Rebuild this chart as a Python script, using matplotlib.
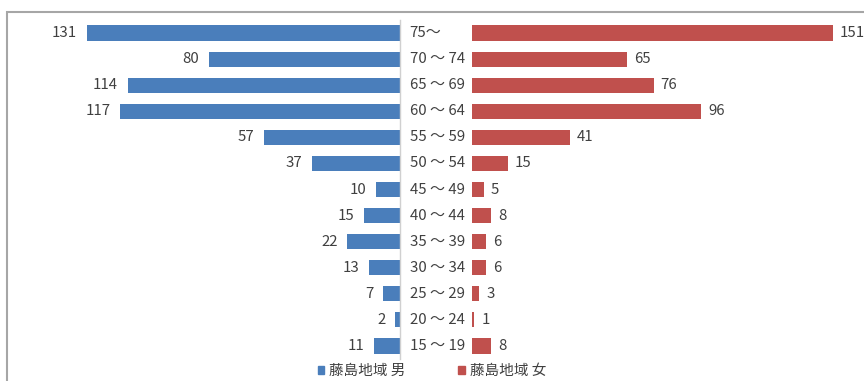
import matplotlib.pyplot as plt
from matplotlib.patches import Patch, Rectangle

plt.rcParams['font.family'] = ['Noto Sans CJK JP', 'DejaVu Sans']

# age groups, top to bottom
ages = ['75～', '70 ～ 74', '65 ～ 69', '60 ～ 64', '55 ～ 59', '50 ～ 54',
        '45 ～ 49', '40 ～ 44', '35 ～ 39', '30 ～ 34', '25 ～ 29',
        '20 ～ 24', '15 ～ 19']
male = [131, 80, 114, 117, 57, 37, 10, 15, 22, 13, 7, 2, 11]
female = [151, 65, 76, 96, 41, 15, 5, 8, 6, 6, 3, 1, 8]

blue = '#4a7ebb'
red = '#c0504d'
txt = '#404040'
fs = 10.8

W, H = 864, 381
fig = plt.figure(figsize=(W / 100, H / 100), dpi=100)

# outer chart frame (runs off the right and bottom edges)
fig.patches.append(Rectangle((7 / W, -0.1), 1.2, 1 - 12 / H + 0.1,
                             transform=fig.transFigure, fill=False,
                             edgecolor='#a6a6a6', linewidth=1.5))

scale = 2.39  # pixels per person
y0, y1 = 20, 359
bottom = 1 - y1 / H
height = (y1 - y0) / H

axl = fig.add_axes([20 / W, bottom, 380 / W, height])
axr = fig.add_axes([472 / W, bottom, 388 / W, height])

ypos = list(range(len(ages)))

axl.barh(ypos, male, height=0.58, color=blue)
axl.set_xlim(380 / scale, 0)
axr.barh(ypos, female, height=0.58, color=red)
axr.set_xlim(0, 388 / scale)

for ax in (axl, axr):
    ax.set_ylim(len(ages) - 0.5, -0.5)
    ax.set_xticks([])
    ax.set_yticks([])
    for s in ax.spines.values():
        s.set_visible(False)
    ax.patch.set_alpha(0)

# centre axis line
axl.spines['right'].set_visible(True)
axl.spines['right'].set_color('#d0d0d0')
axl.spines['right'].set_linewidth(1.0)

for y, v in zip(ypos, male):
    axl.annotate(str(v), xy=(v, y), xytext=(-7, 0), textcoords='offset points',
                 ha='right', va='center', fontsize=fs, color=txt)
for y, v in zip(ypos, female):
    axr.annotate(str(v), xy=(v, y), xytext=(5, 0), textcoords='offset points',
                 ha='left', va='center', fontsize=fs, color=txt)
for y, a in zip(ypos, ages):
    axl.annotate(a, xy=(0, y), xycoords=('data', 'data'), xytext=(7, 0),
                 textcoords='offset points', ha='left', va='center',
                 fontsize=fs, color=txt, annotation_clip=False)

handles = [Patch(color=blue), Patch(color=red)]
fig.legend(handles, ['藤島地域 男', '藤島地域 女'], loc='center',
           bbox_to_anchor=(432 / W, 1 - 371 / H), ncol=2, frameon=False,
           fontsize=10.5, handlelength=0.45, handleheight=0.45,
           handletextpad=0.35, columnspacing=3.6, labelcolor=txt, borderpad=0)

fig.savefig('out.png', dpi=100, facecolor='white')
